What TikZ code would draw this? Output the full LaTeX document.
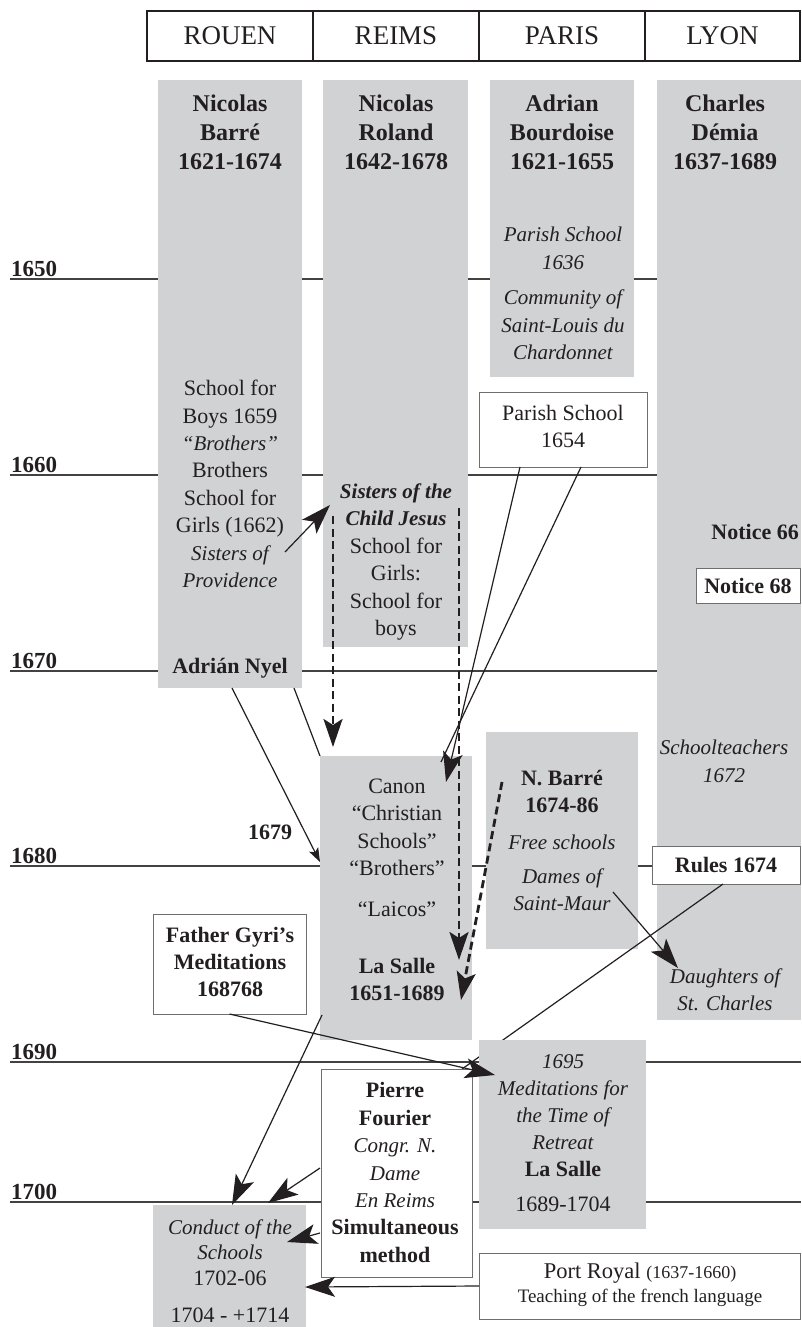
\documentclass[tikz,border=0pt]{standalone}
\usepackage{fontspec}
\setmainfont{Liberation Serif}
\usetikzlibrary{arrows.meta,backgrounds}
\definecolor{boxgrey}{RGB}{209,210,212}
\definecolor{ink}{RGB}{35,31,32}
\definecolor{rulegrey}{RGB}{110,110,110}
\newcommand\itx[1]{{\fontsize{21}{27.4}\selectfont\itshape #1}}
\newcommand\bix[1]{{\fontsize{21}{27.4}\selectfont\bfseries\itshape #1}}
\newcommand\bfx[1]{{\bfseries #1}}
\begin{document}
\begin{tikzpicture}[x=1pt,y=-1pt,
  gbox/.style={fill=boxgrey, draw=none, inner sep=0pt, outer sep=0pt},
  wbox/.style={fill=white, draw=rulegrey, line width=0.9pt, inner sep=0pt, outer sep=0pt},
  body/.style={font=\fontsize{22}{27.4}\selectfont, align=center, inner sep=0pt, text=ink},
  itbody/.style={body, font=\fontsize{21}{27.4}\selectfont\itshape},
  bbody/.style={body, font=\fontsize{22}{27}\selectfont\bfseries},
  ttl/.style={font=\fontsize{24}{29}\selectfont\bfseries, align=center, inner sep=0pt, text=ink},
  yrlab/.style={font=\fontsize{23}{26}\selectfont\bfseries, anchor=base west, inner sep=0pt, text=ink},
  yrline/.style={draw=ink!85, line width=1.5pt},
  conn/.style={draw=ink, line width=1.2pt},
  arr/.style={conn, -{Stealth[length=30pt,width=20pt,inset=7pt]}},
  sarr/.style={conn, -{Stealth[length=14pt,width=10pt,inset=3pt]}},
  darr/.style={draw=ink, line width=2.8pt, dash pattern=on 8pt off 4.5pt, -{Stealth[length=28pt,width=19pt,inset=6pt]}},
  hdr/.style={draw=ink, line width=1.4pt, minimum height=50pt, inner sep=0pt, font=\fontsize{27}{30}\selectfont, text=ink}
]
\useasboundingbox (0,0) rectangle (801,1327);

% ---------- year lines ----------
\begin{scope}[on background layer]
\foreach \y/\lab in {279/1650, 475/1660, 671/1670, 866/1680, 1062/1690, 1202/1700}{
  \draw[yrline] (10,\y) -- (801,\y);
  \node[yrlab] (yr\lab) at (11,\y-3) {\lab};
}
\end{scope}

% ---------- header ----------
\node[hdr, minimum width=166pt] (hrouen) at (230,36) {ROUEN};
\node[hdr, minimum width=166pt] (hreims) at (396,36) {REIMS};
\node[hdr, minimum width=166pt] (hparis) at (562,36) {PARIS};
\node[hdr, minimum width=155pt] (hlyon) at (722.5,36) {LYON};

% ---------- grey columns ----------
\node[gbox, minimum width=144pt, minimum height=608pt] (barre) at (230,384) {};
\node[gbox, minimum width=145pt, minimum height=567pt] (roland) at (395.5,363.5) {};
\node[gbox, minimum width=144pt, minimum height=297pt] (bourdoise) at (562,228.5) {};
\node[gbox, minimum width=144pt, minimum height=940pt] (demia) at (729,550) {};
\node[gbox, minimum width=152pt, minimum height=284pt] (lasalle) at (396,898) {};
\node[gbox, minimum width=152pt, minimum height=217pt] (nbarre) at (562,840.5) {};

% ---------- white boxes (upper) ----------
\node[wbox, minimum width=148pt, minimum height=38pt] (rules) at (726,865) {};
\node[wbox, minimum width=104pt, minimum height=35pt] (notice68) at (748,585.5) {};
\node[wbox, minimum width=168pt, minimum height=75pt] (parish) at (563,429.5) {};

% line Rules 1674 -> Pierre Fourier (behind the 1695 box)
\coordinate (pierretop) at (462,1069);
\draw[conn] (rules.south) ++(-3,0) -- (pierretop);

% ---------- lower boxes ----------
\node[gbox, minimum width=167pt, minimum height=189pt] (med) at (562.5,1134.5) {};
\node[wbox, minimum width=151pt, minimum height=208pt] (pierre) at (396.5,1173) {};
\node[wbox, minimum width=153pt, minimum height=100pt] (gyri) at (229.5,964) {};
\node[gbox, minimum width=153pt, minimum height=130pt] (conduct) at (229.5,1270) {};
\node[wbox, minimum width=321pt, minimum height=66pt] (port) at (639.5,1286) {};

% ---------- titles ----------
\node[ttl] (tbarre) at (230,132) {Nicolas\\Barré\\1621-1674};
\node[ttl] (troland) at (396,132) {Nicolas\\Roland\\1642-1678};
\node[ttl] (tbourd) at (562,132) {Adrian\\Bourdoise\\1621-1655};
\node[ttl] (tdemia) at (725,132) {Charles\\Démia\\1637-1689};

% ---------- texts ----------
\node[body] (t1) at (230,484) {School for\\Boys 1659\\\itx{“Brothers”}\\Brothers\\School for\\Girls (1662)\\\itx{Sisters of}\\\itx{Providence}};
\node[bbody] (nyel) at (230,668) {Adrián Nyel};
\node[body] (t2) at (396,562) {\bix{Sisters of the}\\\bix{Child Jesus}\\School for\\Girls:\\School for\\boys};
\node[itbody] (t3a) at (563,248.5) {Parish School\\1636};
\node[itbody] (t3b) at (563,325) {Community of\\Saint-Louis du\\Chardonnet};
\node[body] (tparish) at (563,426.5) {Parish School\\1654};
\node[bbody, anchor=east] (n66) at (799,532) {Notice 66};
\node[bbody] (n68) at (notice68) {Notice 68};
\node[itbody] (tschool) at (724,761.5) {Schoolteachers\\1672};
\node[itbody] (tdaught) at (725,989.5) {Daughters of\\St. Charles};
\node[bbody] (trules) at (rules) {Rules 1674};
\node[bbody] (t1679) at (270,832) {1679};
\node[body] (tcanon) at (397,827.5) {Canon\\“Christian\\Schools”\\“Brothers”};
\node[body] (tlaicos) at (397,909) {“Laicos”};
\node[bbody] (tlasalle) at (397,979) {La Salle\\1651-1689};
\node[bbody] (tnbarre) at (562,791) {N. Barré\\1674-86};
\node[itbody] (tfree) at (562,842) {Free schools};
\node[itbody] (tdames) at (562,890) {Dames of\\Saint-Maur};
\node[bbody] (tgyri) at (230,962) {Father Gyri’s\\Meditations\\168768};
\node[body, font=\fontsize{22}{27}\selectfont] (tmed) at (563,1116) {\itx{1695}\\\itx{Meditations for}\\\itx{the Time of}\\\itx{Retreat}\\\bfx{La Salle}};
\node[body] (tmed2) at (563,1204) {1689-1704};
\node[body] (tpierre) at (395,1172.5) {\bfx{Pierre}\\\bfx{Fourier}\\\itx{Congr. N.}\\\itx{Dame}\\\itx{En Reims}\\\bfx{Simultaneous}\\\bfx{method}};
\node[body, font=\fontsize{22}{25.5}\selectfont] (tconduct) at (230,1252.5) {\itx{Conduct of the}\\\itx{Schools}\\1702-06};
\node[body] (tconduct2) at (230,1315) {1704 - +1714};
\node[body, font=\fontsize{22.5}{25}\selectfont] (tport1) at (640,1273) {Port Royal {\fontsize{18}{20}\selectfont (1637-1660)}};
\node[body, font=\fontsize{19}{22}\selectfont] (tport2) at (640,1298) {Teaching of the french language};

% ---------- connectors ----------
\coordinate (provS) at (285,552);
\coordinate (sisE) at (330,505);
\draw[arr] (provS) -- (sisE);

\coordinate (dA1) at (333,516);
\coordinate (dA2) at (333,747);
\draw[darr] (dA1) -- (dA2);
\coordinate (dB1) at (459,508);
\coordinate (dB2) at (459,960);
\draw[darr] (dB1) -- (dB2);
\coordinate (dC1) at (502,782);
\coordinate (dC2) at (461,1000);
\draw[darr] (dC1) -- (dC2);

\coordinate (nyelA) at (232,688);
\coordinate (nyelB) at (294,688);
\coordinate (in1679) at (320,862);
\draw[sarr] (nyelA) -- (in1679);
\draw[conn] (nyelB) -- (lasalle.north west);

\coordinate (parA) at (520,467);
\coordinate (parB) at (581,467);
\coordinate (canonTip) at (446,782);
\coordinate (canonB) at (441,762);
\draw[arr] (parA) -- (canonTip);
\draw[conn] (parB) -- (canonB);

\coordinate (maurS) at (613,892);
\coordinate (daughtE) at (678,968);
\draw[arr] (maurS) -- (daughtE);

\coordinate (medIn) at (495,1075);
\draw[arr] (gyri.south) -- (medIn);

\coordinate (lsOut) at (322,1015);
\coordinate (condA) at (232,1205);
\draw[arr] (lsOut) -- (condA);

\coordinate (pfA) at (320,1168);
\coordinate (condB) at (268,1203);
\draw[arr] (pfA) -- (condB);
\coordinate (pfB) at (320,1233);
\coordinate (condC) at (287,1242);
\draw[arr] (pfB) -- (condC);

\coordinate (condD) at (305,1287);
\draw[arr] (port.west) -- (condD);
\end{tikzpicture}
\end{document}
